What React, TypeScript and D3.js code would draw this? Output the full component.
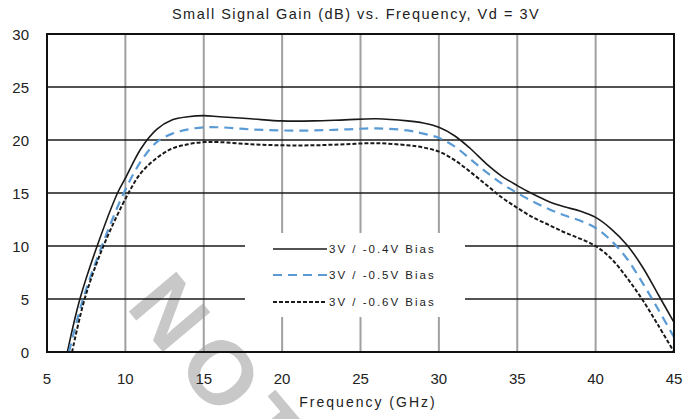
import React from "react";
import * as d3 from "d3";

const xTicks = [5, 10, 15, 20, 25, 30, 35, 40, 45];
const yTicks = [0, 5, 10, 15, 20, 25, 30];

const freqA = [6.3, 7.1, 8.2, 9.5, 10, 11, 12, 13, 14, 15, 16, 18, 20, 22, 24, 26, 28, 29, 30, 31, 32, 33, 34, 35, 36, 37, 38, 39, 40, 41, 42, 43, 44, 45];
const gainA = [0, 5, 10, 15, 16.4, 19.2, 21.0, 21.9, 22.2, 22.3, 22.2, 22.0, 21.8, 21.8, 21.9, 22.0, 21.8, 21.6, 21.2, 20.4, 19.2, 17.8, 16.6, 15.7, 14.9, 14.2, 13.7, 13.3, 12.7, 11.6, 10.1, 8.0, 5.4, 2.8];

const freqB = [6.4, 7.3, 8.5, 9.9, 11, 12, 13, 14, 15, 16, 18, 20, 22, 24, 26, 28, 29, 30, 31, 32, 33, 34, 35, 36, 37, 38, 39, 40, 41, 42, 43, 44, 45];
const gainB = [0, 5, 10, 15, 18.0, 19.8, 20.6, 21.0, 21.2, 21.2, 21.0, 20.9, 20.9, 21.0, 21.1, 20.9, 20.6, 20.2, 19.4, 18.2, 17.0, 15.9, 15.0, 14.2, 13.5, 12.9, 12.4, 11.7, 10.5, 8.8, 6.5, 4.0, 1.4];

const freqC = [6.6, 7.4, 8.6, 10.2, 11, 12, 13, 14, 15, 16, 18, 20, 22, 24, 26, 28, 29, 30, 31, 32, 33, 34, 35, 36, 37, 38, 39, 40, 41, 42, 43, 44, 45];
const gainC = [0, 5, 10, 15, 16.9, 18.3, 19.2, 19.6, 19.8, 19.8, 19.6, 19.5, 19.5, 19.6, 19.7, 19.5, 19.3, 18.9, 18.1, 17.0, 15.8, 14.6, 13.6, 12.7, 12.0, 11.3, 10.7, 10.0, 8.8, 7.0, 4.9, 2.5, 0];

const seriesNames = ["3V / -0.4V Bias", "3V / -0.5V Bias", "3V / -0.6V Bias"];

const W = 684, H = 419;
const L = 47, R = 674, T = 34, B = 352;
const font = "'Liberation Sans', Arial, sans-serif";

export default function App() {
  const x = d3.scaleLinear().domain([5, 45]).range([L, R]);
  const y = d3.scaleLinear().domain([0, 30]).range([B, T]);
  const line = d3
    .line<[number, number]>()
    .x((d) => x(d[0]))
    .y((d) => y(d[1]))
    .curve(d3.curveCatmullRom.alpha(0.5));
  const zip = (f: number[], g: number[]) => f.map((v, i) => [v, g[i]] as [number, number]);

  const series = [
    { d: zip(freqA, gainA), color: "#1a1a1a", dash: "", w: 1.6 },
    { d: zip(freqB, gainB), color: "#5b9bd5", dash: "9,6", w: 2.2 },
    { d: zip(freqC, gainC), color: "#1a1a1a", dash: "4,2", w: 2 },
  ];

  const leg = { x0: 245, x1: 465, y0: 233, y1: 317 };
  const legY = [249, 275, 302];

  return (
    <svg width={W} height={H} style={{ position: "absolute", left: 0, top: 0, background: "#fff" }}>
      <rect x={0} y={0} width={W} height={H} fill="#fff" />
      <text x={356} y={19} textAnchor="middle" fontFamily={font} fontSize={14.5} fill="#222" letterSpacing={1.5}>
        Small Signal Gain (dB) vs. Frequency, Vd = 3V
      </text>
      <text
        x={0}
        y={0}
        transform="translate(125,307) rotate(50)"
        fontFamily={font}
        fontWeight="bold"
        fontSize={90}
        fill="#c8c8c8"
        letterSpacing={12}
      >
        NOT
      </text>
      {xTicks.slice(1, -1).map((t) => (
        <line key={"vx" + t} x1={x(t)} x2={x(t)} y1={T} y2={B} stroke="#a0a0a0" strokeWidth={2} />
      ))}
      {yTicks.slice(1, -1).map((t) => (
        <line key={"hy" + t} x1={L} x2={R} y1={y(t)} y2={y(t)} stroke="#1a1a1a" strokeWidth={1.5} />
      ))}
      {series.map((s, i) => (
        <path key={i} d={line(s.d) || ""} fill="none" stroke={s.color} strokeWidth={s.w} strokeDasharray={s.dash} />
      ))}
      <rect x={leg.x0} y={leg.y0} width={leg.x1 - leg.x0} height={leg.y1 - leg.y0} fill="#fff" />
      {series.map((s, i) => (
        <g key={"lg" + i}>
          <line x1={273} x2={327} y1={legY[i]} y2={legY[i]} stroke={s.color} strokeWidth={s.w} strokeDasharray={s.dash} />
          <text x={329} y={legY[i] + 4} fontFamily={font} fontSize={11.5} fill="#222" letterSpacing={2}>
            {seriesNames[i]}
          </text>
        </g>
      ))}
      <rect x={L} y={T} width={R - L} height={B - T} fill="none" stroke="#111" strokeWidth={2} />
      {xTicks.map((t) => (
        <text key={"xt" + t} x={x(t)} y={384} textAnchor="middle" fontFamily={font} fontSize={15} fill="#222">
          {t}
        </text>
      ))}
      {yTicks.map((t) => (
        <text key={"yt" + t} x={29} y={y(t) + 5.5} textAnchor="end" fontFamily={font} fontSize={15} fill="#222">
          {t}
        </text>
      ))}
      <text x={368} y={407} textAnchor="middle" fontFamily={font} fontSize={14} fill="#222" letterSpacing={2}>
        Frequency (GHz)
      </text>
    </svg>
  );
}
